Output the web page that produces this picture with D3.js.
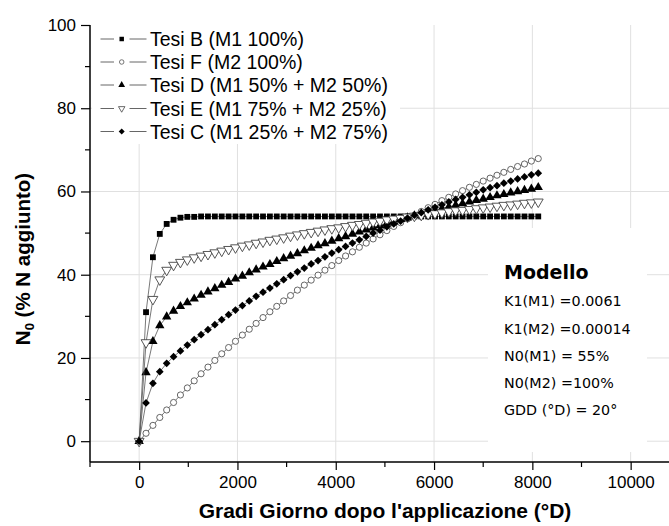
<!DOCTYPE html>
<html>
<head>
<meta charset="utf-8">
<script src="https://cdn.jsdelivr.net/npm/d3@7"></script>
<style>
  html, body { margin: 0; padding: 0; background: #fff; }
  svg { display: block; }
</style>
</head>
<body>
<svg id="chart" width="669" height="526"></svg>
<script>
// ---------------- DATA ----------------
const gdd = [0,140,280,420,560,700,840,980,1120,1260,1400,1540,1680,1820,1960,2100,2240,2380,2520,2660,2800,2940,3080,3220,3360,3500,3640,3780,3920,4060,4200,4340,4480,4620,4760,4900,5040,5180,5320,5460,5600,5740,5880,6020,6160,6300,6440,6580,6720,6860,7000,7140,7280,7420,7560,7700,7840,7980,8120];

const tesiB = [0,31.0,44.2,49.8,52.2,53.2,53.7,53.9,53.9,54.0,54.0,54.0,54.0,54.0,54.0,54.0,54.0,54.0,54.0,54.0,54.0,54.0,54.0,54.0,54.0,54.0,54.0,54.0,54.0,54.0,54.0,54.0,54.0,54.0,54.0,54.0,54.0,54.0,54.0,54.0,54.0,54.0,54.0,54.0,54.0,54.0,54.0,54.0,54.0,54.0,54.0,54.0,54.0,54.0,54.0,54.0,54.0,54.0,54.0];
const tesiF = [0,1.9,3.8,5.7,7.5,9.3,11.1,12.8,14.5,16.2,17.8,19.4,21.0,22.5,24.0,25.5,26.9,28.3,29.7,31.1,32.4,33.7,35.0,36.3,37.5,38.7,39.9,41.1,42.2,43.4,44.5,45.5,46.6,47.6,48.6,49.6,50.6,51.6,52.5,53.4,54.3,55.2,56.1,56.9,57.8,58.6,59.4,60.2,61.0,61.7,62.5,63.2,63.9,64.6,65.3,66.0,66.6,67.3,67.9];
const tesiD = [0,16.5,24.0,27.8,29.9,31.3,32.4,33.3,34.2,35.1,35.9,36.7,37.5,38.2,39.0,39.7,40.5,41.2,41.9,42.5,43.2,43.9,44.5,45.1,45.8,46.4,47.0,47.5,48.1,48.7,49.2,49.8,50.3,50.8,51.3,51.8,52.3,52.8,53.3,53.7,54.2,54.6,55.1,55.5,55.9,56.3,56.7,57.1,57.5,57.9,58.2,58.6,59.0,59.3,59.7,60.0,60.3,60.6,61.0];
const tesiE = [0,23.7,34.1,38.8,41.1,42.3,43.0,43.6,44.1,44.5,44.9,45.3,45.7,46.1,46.5,46.9,47.2,47.6,47.9,48.3,48.6,48.9,49.3,49.6,49.9,50.2,50.5,50.8,51.1,51.3,51.6,51.9,52.1,52.4,52.7,52.9,53.2,53.4,53.6,53.9,54.1,54.3,54.5,54.7,54.9,55.2,55.4,55.5,55.7,55.9,56.1,56.3,56.5,56.7,56.8,57.0,57.2,57.3,57.5];
const tesiC = [0,9.2,13.9,16.7,18.7,20.3,21.7,23.1,24.4,25.6,26.8,28.0,29.2,30.4,31.5,32.6,33.7,34.8,35.8,36.8,37.8,38.8,39.8,40.7,41.6,42.6,43.4,44.3,45.2,46.0,46.8,47.6,48.4,49.2,50.0,50.7,51.5,52.2,52.9,53.6,54.3,54.9,55.6,56.2,56.8,57.5,58.1,58.6,59.2,59.8,60.4,60.9,61.4,62.0,62.5,63.0,63.5,64.0,64.4];

const seriesNames = ["Tesi B (M1 100%)", "Tesi F (M2 100%)", "Tesi D (M1 50% + M2 50%)", "Tesi E (M1 75% + M2 25%)", "Tesi C (M1 25% + M2 75%)"];
const xTicks = [0, 2000, 4000, 6000, 8000, 10000];
const xMinorTicks = [-1000, 1000, 3000, 5000, 7000, 9000];
const yTicks = [0, 20, 40, 60, 80, 100];
const yMinorTicks = [10, 30, 50, 70, 90];
const modelTitle = "Modello";
const modelLines = ["K1(M1) =0.0061", "K1(M2) =0.00014", "N0(M1) = 55%", "N0(M2) =100%", "GDD (°D) = 20°"];
const xTitle = "Gradi Giorno dopo l'applicazione (°D)";

// ---------------- CHART ----------------
const svg = d3.select("#chart");
const FONT = "'Liberation Sans', Arial, Helvetica, sans-serif";
const VFONT = "'DejaVu Sans', Verdana, sans-serif";

const x = d3.scaleLinear().domain([-1000, 11000]).range([90, 679.8]);
const y = d3.scaleLinear().domain([-5, 100]).range([462, 25]);

// gridlines
const grid = svg.append("g");
grid.selectAll(".gx").data(xTicks).join("line")
  .attr("x1", d => x(d)).attr("x2", d => x(d))
  .attr("y1", y(100)).attr("y2", y(-5))
  .attr("stroke", "#e0e0e0").attr("stroke-width", 1);
grid.selectAll(".gy").data(yTicks.filter(d => d < 100)).join("line")
  .attr("x1", x(-1000)).attr("x2", 669)
  .attr("y1", d => y(d)).attr("y2", d => y(d))
  .attr("stroke", "#e0e0e0").attr("stroke-width", 1);

// white boxes covering gridlines (legend and model text)
svg.append("rect").attr("x", 92).attr("y", 25).attr("width", 308).attr("height", 119).attr("fill", "#fff");
svg.append("rect").attr("x", 488).attr("y", 228).attr("width", 159).attr("height", 224).attr("fill", "#fff");

// series definitions
const sym = (type, size) => d3.symbol().type(type).size(size)();
const series = [
  { name: seriesNames[0], values: tesiB, type: d3.symbolSquare, size: 34, fill: "#000", stroke: "none", rot: 0, lsize: 20 },
  { name: seriesNames[1], values: tesiF, type: d3.symbolCircle, size: 30, fill: "#fff", stroke: "#555", rot: 0, lsize: 16 },
  { name: seriesNames[2], values: tesiD, type: d3.symbolTriangle, size: 38, fill: "#000", stroke: "none", rot: 0, lsize: 20 },
  { name: seriesNames[3], values: tesiE, type: d3.symbolTriangle, size: 42, fill: "#fff", stroke: "#444", rot: 180, lsize: 18 },
  { name: seriesNames[4], values: tesiC, type: d3.symbolSquare, size: 30, fill: "#000", stroke: "none", rot: 45, lsize: 18 }
];

const line = d3.line().x(d => x(d[0])).y(d => y(d[1]));
const plot = svg.append("g");
series.forEach(s => {
  const pts = gdd.map((g, i) => [g, s.values[i]]).filter(p => p[1] !== undefined);
  plot.append("path").datum(pts).attr("d", line)
    .attr("fill", "none").attr("stroke", "#555").attr("stroke-width", 0.8);
  plot.append("g").selectAll("path").data(pts).join("path")
    .attr("d", sym(s.type, s.size))
    .attr("transform", d => `translate(${x(d[0])},${y(d[1])}) rotate(${s.rot})`)
    .attr("fill", s.fill).attr("stroke", s.stroke).attr("stroke-width", 0.9);
});

// axes
const yAxis = d3.axisLeft(y).tickValues(yTicks).tickSize(9).tickPadding(5).tickFormat(d3.format("d"));
const gy = svg.append("g").attr("transform", `translate(${x(-1000)},0)`).call(yAxis);
gy.select(".domain").attr("d", `M0,${y(100)}V${y(-5)}`).attr("stroke-width", 1.5);
gy.selectAll(".tick line").attr("stroke-width", 1.2);
gy.selectAll("text").attr("font-family", FONT).attr("font-size", 17).attr("fill", "#000");
gy.append("g").selectAll("line").data(yMinorTicks).join("line")
  .attr("x1", 0).attr("x2", -5).attr("y1", d => y(d)).attr("y2", d => y(d))
  .attr("stroke", "#000").attr("stroke-width", 1.2);

const xAxis = d3.axisBottom(x).tickValues(xTicks).tickSize(8).tickPadding(6).tickFormat(d3.format("d"));
const gx = svg.append("g").attr("transform", `translate(0,${y(-5)})`).call(xAxis);
gx.select(".domain").attr("d", `M${x(-1000)},0H669`).attr("stroke-width", 1.5);
gx.selectAll(".tick line").attr("stroke-width", 1.2);
gx.selectAll("text").attr("font-family", FONT).attr("font-size", 17).attr("fill", "#000");
gx.append("g").selectAll("line").data(xMinorTicks).join("line")
  .attr("x1", d => x(d)).attr("x2", d => x(d)).attr("y1", 0).attr("y2", 5)
  .attr("stroke", "#000").attr("stroke-width", 1.2);

// axis titles
svg.append("text").attr("x", 385).attr("y", 518).attr("text-anchor", "middle")
  .attr("font-family", FONT).attr("font-weight", "bold").attr("font-size", 21)
  .text(xTitle);
const yt = svg.append("text").attr("transform", "translate(30,259) rotate(-90)")
  .attr("text-anchor", "middle").attr("font-family", FONT).attr("font-weight", "bold").attr("font-size", 20.5);
yt.append("tspan").text("N");
yt.append("tspan").attr("font-size", 13).attr("dy", 4).text("0");
yt.append("tspan").attr("dy", -4).text(" (% N aggiunto)");

// legend
const legend = svg.append("g");
const rowY = [39, 62, 85, 108.5, 131.5];
series.forEach((s, i) => {
  const g = legend.append("g").attr("transform", `translate(0,${rowY[i]})`);
  g.append("line").attr("x1", 100.5).attr("x2", 114).attr("y1", 0).attr("y2", 0).attr("stroke", "#666").attr("stroke-width", 1);
  g.append("line").attr("x1", 129.5).attr("x2", 146.5).attr("y1", 0).attr("y2", 0).attr("stroke", "#666").attr("stroke-width", 1);
  g.append("path").attr("d", sym(s.type, s.lsize))
    .attr("transform", `translate(121.7,0) rotate(${s.rot})`)
    .attr("fill", s.fill).attr("stroke", s.stroke).attr("stroke-width", 0.8);
  g.append("text").attr("x", 150).attr("y", 7).attr("font-family", FONT).attr("font-size", 19.5).attr("fill", "#000").text(s.name);
});

// model text
svg.append("text").attr("x", 504).attr("y", 279).attr("font-family", VFONT).attr("font-weight", "bold").attr("font-size", 19).text(modelTitle);
const lineY = [306, 333.5, 361, 388, 414.5];
svg.append("g").selectAll("text").data(modelLines).join("text")
  .attr("x", 504).attr("y", (d, i) => lineY[i])
  .attr("font-family", VFONT).attr("font-size", 14.3).attr("fill", "#000").text(d => d);
</script>
</body>
</html>
